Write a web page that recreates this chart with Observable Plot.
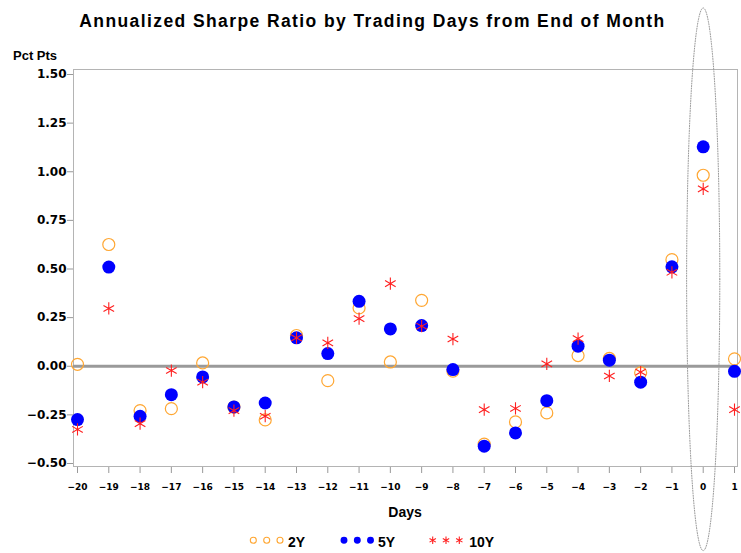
<!DOCTYPE html>
<html><head><meta charset="utf-8">
<script src="https://cdn.jsdelivr.net/npm/d3@7"></script>
<script src="https://cdn.jsdelivr.net/npm/@observablehq/plot@0.6"></script>
<style>
body{margin:0;background:#fff;}
#chart{width:741px;height:553px;}
</style></head><body><div id="chart"></div>
<script>
const days = [-20,-19,-18,-17,-16,-15,-14,-13,-12,-11,-10,-9,-8,-7,-6,-5,-4,-3,-2,-1,0,1];
const sharpe2Y = [0.01,0.626,-0.228,-0.218,0.017,-0.21,-0.276,0.158,-0.074,0.30,0.022,0.339,-0.025,-0.40,-0.286,-0.24,0.055,0.04,-0.034,0.548,0.982,0.038];
const sharpe5Y = [-0.274,0.51,-0.257,-0.146,-0.055,-0.209,-0.189,0.146,0.065,0.334,0.192,0.209,-0.017,-0.411,-0.343,-0.177,0.103,0.031,-0.082,0.511,1.128,-0.026];
const sharpe10Y = [-0.325,0.297,-0.295,-0.022,-0.082,-0.228,-0.257,0.146,0.12,0.245,0.425,0.206,0.14,-0.223,-0.217,0.012,0.142,-0.05,-0.03,0.483,0.912,-0.223];
const seriesNames = ["2Y","5Y","10Y"];
const yTicks = [-0.5,-0.25,0,0.25,0.5,0.75,1,1.25,1.5];
const xTicks = days;
const titleText = "Annualized Sharpe Ratio by Trading Days from End of Month";
const yLabelText = "Pct Pts";
const xLabelText = "Days";
// highlight ellipse around day 0 (data units)
const ellipseCenter = {x: 0, y: 0.447};
const ellipseRadius = {x: 0.53, y: 1.395};

const c2 = "#FFA733", c5 = "#0000FF", c10 = "#FF2020";

const rows = days.map((d,i)=>({day:d, v2:sharpe2Y[i], v5:sharpe5Y[i], v10:sharpe10Y[i]}));
const ellipsePts = d3.range(0, 361, 2).map(a => ({
  x: ellipseCenter.x + ellipseRadius.x*Math.cos(a*Math.PI/180),
  y: ellipseCenter.y + ellipseRadius.y*Math.sin(a*Math.PI/180)
}));

const chart = Plot.plot({
  width: 741, height: 553,
  marginLeft: 73, marginRight: 4, marginTop: 69, marginBottom: 87,
  style: {fontFamily: "DejaVu Sans", fontWeight: "bold", fontSize: "12px", background: "#fff", color: "#000"},
  x: {domain: [-20, 1], insetLeft: 4, insetRight: 3, ticks: xTicks, tickFormat: d3.format("d"), tickSize: 7, tickPadding: 10, label: null},
  y: {domain: [-0.5, 1.5], insetTop: 5, insetBottom: 3, ticks: yTicks, tickFormat: d3.format(".2f"), tickSize: 6, tickPadding: 1, label: null},
  marks: [
    Plot.frame({stroke: "#b4b4b4"}),
    Plot.ruleY([0], {stroke: "#9a9a9a", strokeWidth: 3}),
    Plot.dot(rows, {x: "day", y: "v2", r: 6, stroke: c2, strokeWidth: 1.2, fill: "none"}),
    Plot.dot(rows, {x: "day", y: "v5", r: 6.5, fill: c5, stroke: "none"}),
    Plot.dot(rows, {x: "day", y: "v10", r: 5.8, symbol: "asterisk", stroke: c10, strokeWidth: 1.1}),
    Plot.line(ellipsePts, {x: "x", y: "y", stroke: "#999", strokeWidth: 1, strokeDasharray: "1,1.5"})
  ]
});

const svg = d3.select(chart);
svg.attr("font-weight", "bold");
svg.selectAll('g[aria-label^="x-axis"] text').attr("font-size", 9).attr("font-family", "DejaVu Sans").attr("font-weight", "bold");
svg.selectAll('g[aria-label^="y-axis"] text').attr("font-size", 12).attr("font-family", "DejaVu Sans").attr("font-weight", "bold");
svg.selectAll('g[aria-label^="x-axis"] line, g[aria-label^="x-axis"] path, g[aria-label^="y-axis"] line, g[aria-label^="y-axis"] path').attr("stroke", "#999");

const ov = svg.append("g").attr("font-family", "'Liberation Sans', Arial, sans-serif").attr("font-weight", "bold").attr("fill", "#000").attr("text-anchor", "start");
ov.append("text").attr("x", 372.5).attr("y", 26.7).attr("text-anchor", "middle").attr("font-size", 17.5).attr("letter-spacing", "1.4px").text(titleText);
ov.append("text").attr("x", 13).attr("y", 59.5).attr("text-anchor", "start").attr("font-size", 13).text(yLabelText);
ov.append("text").attr("x", 405).attr("y", 517).attr("text-anchor", "middle").attr("font-size", 14).text(xLabelText);

// legend
const legY = 540.3;
const legend = [
  {name: seriesNames[0], xs: [253.3, 266.7, 280], tx: 288, sym: d3.symbolCircle, size: Math.PI*9, fill: "none", stroke: c2},
  {name: seriesNames[1], xs: [344, 357.3, 370.5], tx: 378, sym: d3.symbolCircle, size: Math.PI*12, fill: c5, stroke: "none"},
  {name: seriesNames[2], xs: [432.7, 446, 459.3], tx: 469.3, sym: d3.symbolAsterisk, size: Math.PI*12, fill: "none", stroke: c10}
];
for (const L of legend) {
  for (const x of L.xs) {
    ov.append("path").attr("transform", `translate(${x},${legY})`).attr("d", d3.symbol(L.sym, L.size)())
      .attr("fill", L.fill).attr("stroke", L.stroke).attr("stroke-width", 1.1);
  }
  ov.append("text").attr("x", L.tx).attr("y", 547.3).attr("text-anchor", "start").attr("font-size", 14).text(L.name);
}

document.getElementById("chart").appendChild(chart);
</script>
</body></html>
